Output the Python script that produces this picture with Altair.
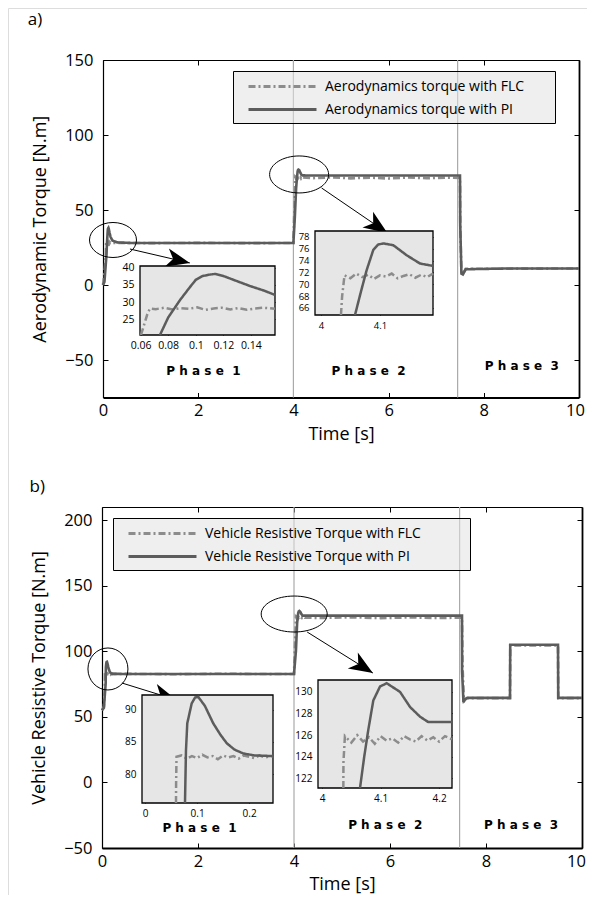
import altair as alt
import pandas as pd

W, H = 579, 887
FONT = "Open Sans"
C_FLC = "#8c8c8c"
C_PI = "#5c5c5c"
DASH_FLC = [7, 3, 2, 3]
DASH_PI = [1, 0]

FLC_A = "Aerodynamics torque with FLC"
PI_A = "Aerodynamics torque with PI"
FLC_B = "Vehicle Resistive Torque with FLC"
PI_B = "Vehicle Resistive Torque with PI"

# ---------------- data ----------------
# inset a1 (phase 1 zoom, aerodynamic torque)
a1_flc_t = [0.0602, 0.0625, 0.0648, 0.0667, 0.071, 0.077, 0.083, 0.089, 0.095, 0.101, 0.107, 0.113, 0.119, 0.125, 0.131, 0.137, 0.143, 0.149, 0.1575]
a1_flc_v = [20.5, 23.5, 26.5, 28.2, 28.0, 28.4, 27.9, 28.3, 28.1, 28.5, 27.8, 28.2, 28.4, 27.9, 28.3, 27.8, 28.2, 28.4, 28.1]
a1_pi_t = [0.074, 0.08, 0.0885, 0.095, 0.1, 0.105, 0.11, 0.114, 0.12, 0.13, 0.1393, 0.15, 0.1575]
a1_pi_v = [20.5, 25.6, 30.6, 34.0, 36.5, 37.6, 38.0, 38.2, 37.6, 36.1, 34.7, 33.3, 32.1]

# inset a2 (phase 2 zoom, aerodynamic torque)
a2_flc_t = [4.034, 4.036, 4.040, 4.05, 4.06, 4.07, 4.08, 4.09, 4.10, 4.11, 4.12, 4.13, 4.14, 4.15, 4.16, 4.17, 4.18, 4.19]
a2_flc_v = [64.8, 68.0, 71.5, 71.0, 71.8, 71.2, 71.6, 70.9, 71.5, 71.3, 71.8, 71.0, 71.4, 71.7, 71.1, 71.6, 71.2, 71.8]
a2_pi_t = [4.0578, 4.068, 4.0776, 4.0888, 4.097, 4.1058, 4.1227, 4.1454, 4.168, 4.19]
a2_pi_v = [64.8, 68.8, 72.4, 75.8, 76.7, 76.9, 76.6, 74.9, 73.5, 73.1]

# inset b1 (phase 1 zoom, vehicle resistive torque)
b1_flc_t = [0.0594, 0.0596, 0.0604, 0.07, 0.08, 0.09, 0.10, 0.11, 0.12, 0.13, 0.14, 0.15, 0.16, 0.17, 0.18, 0.19, 0.20, 0.21, 0.22, 0.23, 0.246]
b1_flc_v = [75.5, 78.5, 82.7, 82.9, 82.4, 82.8, 82.5, 83.0, 82.6, 82.8, 82.3, 82.9, 82.6, 82.8, 82.4, 82.9, 82.7, 82.5, 82.9, 82.6, 82.8]
b1_pi_t = [0.0767, 0.0786, 0.0811, 0.0896, 0.0960, 0.1023, 0.115, 0.131, 0.145, 0.157, 0.172, 0.189, 0.21, 0.246]
b1_pi_v = [75.5, 83.7, 87.9, 91.0, 91.9, 92.0, 90.6, 87.9, 86.1, 84.8, 83.8, 83.2, 82.9, 82.8]

# inset b2 (phase 2 zoom, vehicle resistive torque)
b2_flc_t = [4.0363, 4.0365, 4.039, 4.05, 4.06, 4.07, 4.08, 4.09, 4.10, 4.11, 4.12, 4.13, 4.14, 4.15, 4.16, 4.17, 4.18, 4.19, 4.20, 4.21, 4.222]
b2_flc_v = [121.1, 123.5, 125.9, 125.3, 126.0, 125.4, 125.8, 125.2, 125.9, 125.5, 125.7, 125.3, 125.9, 125.6, 125.4, 125.9, 125.5, 125.8, 125.4, 125.9, 125.6]
b2_pi_t = [4.0648, 4.072, 4.079, 4.0875, 4.099, 4.1104, 4.1332, 4.1503, 4.1674, 4.1816, 4.2226]
b2_pi_v = [121.1, 124.0, 126.5, 129.2, 130.5, 130.8, 130.0, 128.6, 127.7, 127.2, 127.2]

# main panel a
a_pi_t = [0, 0.03] + a1_pi_t + [0.2, 0.3, 0.6, 4.0, 4.03] + a2_pi_t + [4.3, 5.5, 7.5, 7.505, 7.53, 7.56, 7.62, 8.5, 10]
a_pi_v = [0, 2] + a1_pi_v + [29.6, 28.4, 28.0, 28.0, 45] + a2_pi_v + [73.0, 73.0, 73.0, 40, 7.5, 7.0, 10.5, 11, 11]
a_flc_t = [0, 0.03] + a1_flc_t + [0.25, 1.0, 2.0, 3.0, 4.0, 4.02] + a2_flc_t + [4.4, 4.8, 5.2, 5.6, 6.0, 6.4, 6.8, 7.2, 7.5, 7.505, 7.53, 7.56, 7.62, 10]
a_flc_v = [0, 8] + a1_flc_v + [28.1, 27.9, 28.1, 27.9, 28.0, 50] + a2_flc_v + [71.2, 71.8, 71.1, 71.6, 71.0, 71.7, 71.2, 71.6, 71.4, 40, 8, 7.5, 10.8, 11]

# main panel b
b_pi_t = [0, 0.04] + b1_pi_t + [0.4, 4.0, 4.04] + b2_pi_t + [4.6, 7.5, 7.502, 7.53, 7.56, 7.62, 8.5, 8.505, 9.5, 9.505, 10]
b_pi_v = [55, 57] + b1_pi_v + [82.7, 82.7, 100] + b2_pi_v + [127.2, 127.2, 85, 61.2, 63.5, 64.5, 64.5, 105, 105, 64.5, 64.5]
b_flc_t = [0, 0.04] + b1_flc_t + [0.5, 1.5, 2.5, 3.5, 4.0, 4.02] + b2_flc_t + [4.6, 5.2, 5.8, 6.4, 7.0, 7.5, 7.51, 7.54, 7.6, 8.5, 8.505, 9.5, 9.505, 10]
b_flc_v = [55, 58] + b1_flc_v + [82.8, 82.5, 82.9, 82.6, 82.7, 105] + b2_flc_v + [125.4, 125.9, 125.3, 125.8, 125.4, 125.6, 90, 62, 64.3, 64.3, 104.5, 104.5, 64.3, 64.3]

# tick values
a_xticks = [0, 2, 4, 6, 8, 10]
a_yticks = [-50, 0, 50, 100, 150]
b_yticks = [-50, 0, 50, 100, 150, 200]
a1_xticks = [0.06, 0.08, 0.1, 0.12, 0.14]
a1_yticks = [25, 30, 35, 40]
a2_xticks = [4.0, 4.1]
a2_yticks = [66, 68, 70, 72, 74, 76, 78]
b1_xticks = [0, 0.1, 0.2]
b1_yticks = [80, 85, 90]
b2_xticks = [4.0, 4.1, 4.2]
b2_yticks = [122, 124, 126, 128, 130]

phase_lines = [4.0, 7.45]
phase_names = ["P h a s e  1", "P h a s e  2", "P h a s e  3"]
a_phase_t = [2.11, 5.58, 8.80]
a_phase_v = [-57, -57, -53.7]
b_phase_t = [2.03, 5.9, 8.73]
b_phase_v = [-34.7, -32.5, -32.5]

# ---------------- layout (panel domains and pixel ranges) ----------------
PA = dict(xd=[0, 10], xr=[95, 571], yd=[-75, 150], yr=[389.5, 52])
PB = dict(xd=[0, 10], xr=[94, 574], yd=[-50, 210], yr=[840, 499])
IA1 = dict(xd=[0.0595, 0.1575], xr=[132, 267], yd=[20.5, 40.5], yr=[327, 258])
IA2 = dict(xd=[3.99, 4.19], xr=[307, 425], yd=[64.8, 79], yr=[307, 223])
IB1 = dict(xd=[-0.006, 0.246], xr=[134, 265], yd=[75.5, 92.3], yr=[795, 687])
IB2 = dict(xd=[3.993, 4.222], xr=[310, 444], yd=[121.1, 131.1], yr=[780, 672])


def sx(P):
    return alt.Scale(domain=P["xd"], range=P["xr"], nice=False, zero=False)


def sy(P):
    return alt.Scale(domain=P["yd"], range=P["yr"], nice=False, zero=False)


def frame(P, xvals, yvals, fs, padx, pady, xtitle, ytitle, domain, fmt, tick, last_shift=0):
    left, right = P["xr"]
    bottom, top = P["yr"]
    df = pd.DataFrame({"x": P["xd"], "y": P["yd"]})
    common = dict(grid=False, labelFont=FONT, labelFontSize=fs, labelColor="black",
                  titleFont=FONT, titleFontSize=18, titleColor="black",
                  titleFontWeight="normal", domainColor="black", tickColor="black",
                  labelFlush=False, labelOverlap=False, format=fmt)
    xlab = dict(orient="bottom", offset=bottom - H, values=xvals, tickSize=0,
                labelPadding=padx, domain=domain, domainWidth=1.8, titlePadding=6)
    if last_shift:
        xlab["labelOffset"] = {"condition": {"test": f"datum.value == {xvals[-1]}", "value": last_shift}, "value": 0}
    out = []
    out.append(alt.Chart(df).mark_point(opacity=0).encode(
        x=alt.X("x:Q", scale=sx(P), title=xtitle, axis=alt.Axis(**xlab, **common)),
        y=alt.Y("y:Q", scale=sy(P), title=ytitle,
                axis=alt.Axis(orient="left", offset=-left, values=yvals, tickSize=0,
                              labelPadding=pady, domain=domain, domainWidth=1.2,
                              titlePadding=15, **common)),
    ))
    out.append(alt.Chart(df).mark_point(opacity=0).encode(
        x=alt.X("x:Q", scale=sx(P), title=None,
                axis=alt.Axis(orient="top", offset=-bottom, values=xvals, tickSize=tick,
                              labels=False, domain=False, **common)),
        y=alt.Y("y:Q", scale=sy(P), title=None,
                axis=alt.Axis(orient="right", offset=left - W, values=yvals, tickSize=tick,
                              labels=False, domain=False, **common)),
    ))
    out.append(alt.Chart(df).mark_point(opacity=0).encode(
        x=alt.X("x:Q", scale=sx(P), title=None,
                axis=alt.Axis(orient="bottom", offset=top - H, values=xvals, tickSize=tick,
                              labels=False, domain=domain, domainWidth=1.2, **common)),
        y=alt.Y("y:Q", scale=sy(P), title=None,
                axis=alt.Axis(orient="left", offset=-right, values=yvals, tickSize=tick,
                              labels=False, domain=domain, domainWidth=1.8, **common)),
    ))
    return out


def inset_bg(P):
    df = pd.DataFrame({"x0": [P["xd"][0]], "x1": [P["xd"][1]], "y0": [P["yd"][0]], "y1": [P["yd"][1]]})
    return alt.Chart(df).mark_rect(fill="#e6e6e6", stroke="black", strokeWidth=1.3).encode(
        x=alt.X("x0:Q", scale=sx(P), axis=None), x2="x1:Q",
        y=alt.Y("y0:Q", scale=sy(P), axis=None), y2="y1:Q")


def curve(P, t, v, color, dash, width=2.5):
    df = pd.DataFrame({"t": t, "v": v})
    return alt.Chart(df).mark_line(color=color, strokeDash=dash, strokeWidth=width, clip=True).encode(
        x=alt.X("t:Q", scale=sx(P), axis=None),
        y=alt.Y("v:Q", scale=sy(P), axis=None))


def main_curves(P, flc_t, flc_v, pi_t, pi_v, flc_name, pi_name, lx, ly, box_units):
    df = pd.DataFrame({"t": flc_t + pi_t, "v": flc_v + pi_v,
                       "s": [flc_name] * len(flc_t) + [pi_name] * len(pi_t)})
    # legend symbol: a 68px stroke sample; the trailing move-to sets the box's right edge
    symbol = f"M0,0 L8.5,0 M{box_units},0"
    leg = alt.Legend(orient="none", legendX=lx, legendY=ly, title=None, direction="vertical",
                     symbolType=symbol, symbolSize=256, symbolStrokeWidth=3,
                     labelFont=FONT, labelFontSize=14, labelColor="black", labelOffset=67,
                     labelLimit=600, fillColor="rgba(225,225,225,0.55)", strokeColor="black",
                     padding=6, rowPadding=6, cornerRadius=0)
    return alt.Chart(df).mark_line(strokeWidth=2.6).encode(
        x=alt.X("t:Q", scale=sx(P), axis=None),
        y=alt.Y("v:Q", scale=sy(P), axis=None),
        color=alt.Color("s:N", scale=alt.Scale(domain=[flc_name, pi_name], range=[C_FLC, C_PI]), legend=leg),
        strokeDash=alt.StrokeDash("s:N", scale=alt.Scale(domain=[flc_name, pi_name], range=[DASH_FLC, DASH_PI]), legend=leg),
    )


def phase_rules(P):
    df = pd.DataFrame({"t": phase_lines, "y0": [P["yd"][0]] * 2, "y1": [P["yd"][1]] * 2})
    return alt.Chart(df).mark_rule(color="#aaaaaa", strokeWidth=1.2).encode(
        x=alt.X("t:Q", scale=sx(P), axis=None),
        y=alt.Y("y0:Q", scale=sy(P), axis=None), y2="y1:Q")


def phase_text(P, t, v):
    df = pd.DataFrame({"t": t, "v": v, "lab": [s.replace("  ", " \u00a0") for s in phase_names]})
    return alt.Chart(df).mark_text(font="DejaVu Sans", fontWeight="bold", fontSize=12,
                                   color="black", baseline="middle").encode(
        x=alt.X("t:Q", scale=sx(P), axis=None),
        y=alt.Y("v:Q", scale=sy(P), axis=None), text="lab:N")


def ellipse_path(k):
    c = 0.5523
    return (f"M1,0 C1,{k*c:.3f} {c},{k:.3f} 0,{k:.3f} C{-c},{k:.3f} -1,{k*c:.3f} -1,0 "
            f"C-1,{-k*c:.3f} {-c},{-k:.3f} 0,{-k:.3f} C{c},{-k:.3f} 1,{-k*c:.3f} 1,0 Z")


HEAD = "M0,0 L-2,-0.8 L-1.45,0 L-2,0.8 Z"


def annotations(P, ell, arrows, letter):
    out = []
    edf = pd.DataFrame(ell)
    out.append(alt.Chart(edf).mark_point(filled=False, color="black", strokeWidth=1, opacity=1).encode(
        x=alt.X("t:Q", scale=sx(P), axis=None), y=alt.Y("v:Q", scale=sy(P), axis=None),
        shape=alt.Shape("shape:N", scale=None), size=alt.Size("size:Q", scale=None)))
    adf = pd.DataFrame(arrows)
    out.append(alt.Chart(adf).mark_rule(color="black", strokeWidth=1).encode(
        x=alt.X("t0:Q", scale=sx(P), axis=None), y=alt.Y("v0:Q", scale=sy(P), axis=None),
        x2="t1:Q", y2="v1:Q"))
    out.append(alt.Chart(adf).mark_point(filled=True, color="black", shape=HEAD, size=560, opacity=1).encode(
        x=alt.X("t1:Q", scale=sx(P), axis=None), y=alt.Y("v1:Q", scale=sy(P), axis=None),
        angle=alt.Angle("ang:Q", scale=None)))
    ldf = pd.DataFrame(letter)
    out.append(alt.Chart(ldf).mark_text(font=FONT, fontSize=17, color="black").encode(
        x=alt.X("t:Q", scale=sx(P), axis=None), y=alt.Y("v:Q", scale=sy(P), axis=None), text="lab:N"))
    return out


ell_a = {"t": [0.21, 4.12], "v": [30, 73.7],
         "shape": [ellipse_path(0.745), ellipse_path(0.627)], "size": [2209, 3481]}
arr_a = {"t0": [0.566, 4.591], "v0": [24, 64.7], "t1": [1.824, 5.975], "v1": [14.7, 34.7], "ang": [13, 34]}
let_a = {"t": [-1.43], "v": [177], "lab": ["a)"]}
ell_b = {"t": [0.124, 4.004], "v": [86.5, 128.4],
         "shape": [ellipse_path(1.05), ellipse_path(0.545)], "size": [1600, 4356]}
arr_b = {"t0": [0.415, 4.274], "v0": [75.8, 114.7], "t1": [1.556, 5.643], "v1": [62.85, 83.4], "ang": [17, 32]}
let_b = {"t": [-1.35], "v": [225.3], "lab": ["b)"]}

layers = []
# panel a
layers += [phase_rules(PA)]
layers += frame(PA, a_xticks, a_yticks, 16.5, 5, 10, "Time [s]", "Aerodynamic Torque [N.m]", True, "d", 5, -4)
layers += [main_curves(PA, a_flc_t, a_flc_v, a_pi_t, a_pi_v, FLC_A, PI_A, 225, 63, 36.8)]
layers += annotations(PA, ell_a, arr_a, let_a)
layers += [phase_text(PA, a_phase_t, a_phase_v)]
for P, xt, yt, ft, fv, pt, pv, fs in [
    (IA1, a1_xticks, a1_yticks, a1_flc_t, a1_flc_v, a1_pi_t, a1_pi_v, 10.5),
    (IA2, a2_xticks, a2_yticks, a2_flc_t, a2_flc_v, a2_pi_t, a2_pi_v, 9.5),
]:
    layers += [inset_bg(P)]
    layers += frame(P, xt, yt, fs, 5, 6, None, None, False, "~g", 3)
    layers += [curve(P, ft, fv, C_FLC, DASH_FLC), curve(P, pt, pv, C_PI, DASH_PI)]

# panel b
layers += [phase_rules(PB)]
layers += frame(PB, a_xticks, b_yticks, 16.5, 5, 10, "Time [s]", "Vehicle Resistive Torque [N.m]", True, "d", 5, -6)
layers += [main_curves(PB, b_flc_t, b_flc_v, b_pi_t, b_pi_v, FLC_B, PI_B, 105, 510, 41.1)]
layers += annotations(PB, ell_b, arr_b, let_b)
layers += [phase_text(PB, b_phase_t, b_phase_v)]
for P, xt, yt, ft, fv, pt, pv, fs in [
    (IB1, b1_xticks, b1_yticks, b1_flc_t, b1_flc_v, b1_pi_t, b1_pi_v, 10),
    (IB2, b2_xticks, b2_yticks, b2_flc_t, b2_flc_v, b2_pi_t, b2_pi_v, 10),
]:
    layers += [inset_bg(P)]
    layers += frame(P, xt, yt, fs, 5, 6, None, None, False, "~g", 3)
    layers += [curve(P, ft, fv, C_FLC, DASH_FLC), curve(P, pt, pv, C_PI, DASH_PI)]

chart = alt.layer(*layers).resolve_scale(
    x="independent", y="independent", color="independent", strokeDash="independent"
).properties(
    width=W, height=H, autosize=alt.AutoSizeParams(type="none"), padding=0
).configure_view(strokeWidth=0).configure(font=FONT)

chart.save("out.html", embed_options={"renderer": "svg", "actions": False})
